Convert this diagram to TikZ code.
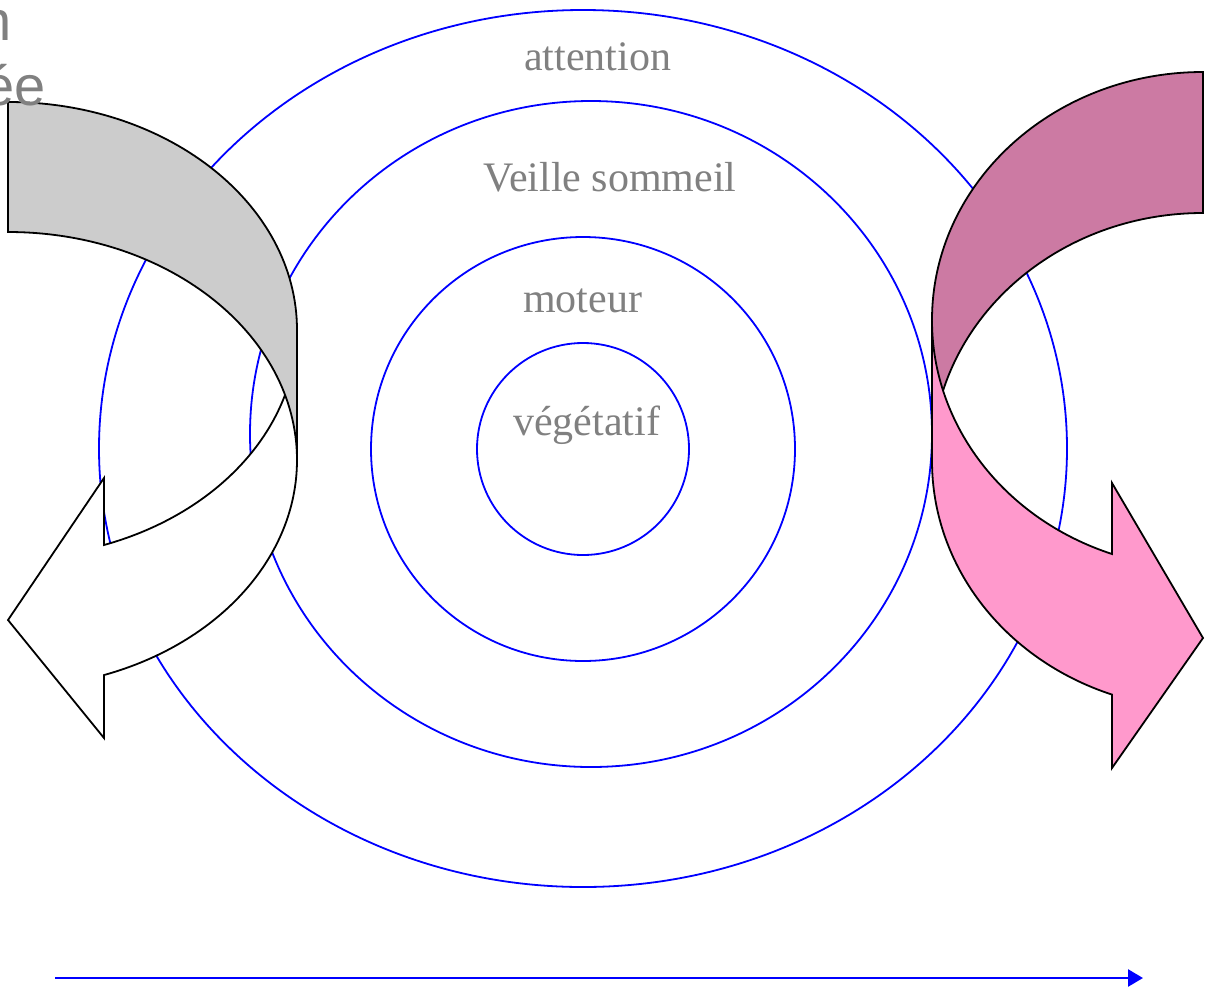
\documentclass[tikz,border=0pt]{standalone}
\usepackage{fontspec}
\setmainfont{Liberation Serif}
\newfontfamily\arialfont{Liberation Sans}
\usetikzlibrary{arrows.meta}
\definecolor{labelgray}{RGB}{128,128,128}
\definecolor{backgray}{RGB}{204,204,204}
\definecolor{pinkfront}{RGB}{255,153,204}
\definecolor{pinkback}{RGB}{204,122,163}
\begin{document}
\begin{tikzpicture}[x=1pt,y=1pt,
  ring/.style={draw=blue,line width=1.8pt},
  lbl/.style={font=\fontsize{42}{50}\selectfont,text=labelgray,inner sep=0pt,anchor=base},
  cut/.style={font=\arialfont\fontsize{56}{66}\selectfont,text=labelgray,inner sep=0pt,anchor=base east},
  band/.style={draw=black,line width=1.8pt,line join=miter},
  axisline/.style={draw=blue,line width=2.6pt,-{Triangle[length=15pt,width=17pt]}}
]
\useasboundingbox (0,0) rectangle (1210,-994);
\clip (0,0) rectangle (1210,-994);

% concentric rings
\draw[ring] (583,-448.5) ellipse [x radius=484, y radius=438.5];
\draw[ring] (591,-434) ellipse [x radius=341, y radius=333];
\draw[ring] (583,-449) ellipse [x radius=212, y radius=212];
\draw[ring] (583,-449) ellipse [x radius=106, y radius=106];

% labels
\node[lbl] (attn) at (597.5,-70.7) {attention};
\node[lbl] (veille) at (610,-191.7) {Veille sommeil};
\node[lbl] (moteur) at (582.5,-312.7) {moteur};
\node[lbl] (veget) at (586.7,-435) {végétatif};

% left curved arrow: front (white) then back (gray) on top
\draw[band,fill=white] (297,-460)
  arc[start angle=0,end angle=-70.6,x radius=289,y radius=228]
  -- (104,-738) -- (8,-620) -- (104,-478) -- (104,-545)
  arc[start angle=-70.6,end angle=0,x radius=289,y radius=228]
  -- cycle;
\draw[band,fill=backgray] (8,-102)
  arc[start angle=90,end angle=0,x radius=289,y radius=228]
  -- (297,-460)
  arc[start angle=0,end angle=90,x radius=289,y radius=228]
  -- cycle;

% right curved arrow: back (mauve) then front (pink) on top
\draw[band,fill=pinkback] (1203,-72)
  arc[start angle=90,end angle=180,x radius=271,y radius=248]
  -- (932,-461)
  arc[start angle=180,end angle=90,x radius=271,y radius=248]
  -- cycle;
\draw[band,fill=pinkfront] (932,-461)
  arc[start angle=180,end angle=250.38,x radius=271,y radius=248]
  -- (1112,-768) -- (1203,-638) -- (1112,-483) -- (1112,-554)
  arc[start angle=250.38,end angle=180,x radius=271,y radius=248]
  -- cycle;

% cut-off text at top left
\node[cut] (cutn) at (12,-40) {n};
\node[cut] (cutee) at (46,-105) {ée};

% bottom axis arrow
\coordinate (axisL) at (55,-978);
\coordinate (axisR) at (1143,-978);
\draw[axisline] (axisL) -- (axisR);
\end{tikzpicture}
\end{document}
